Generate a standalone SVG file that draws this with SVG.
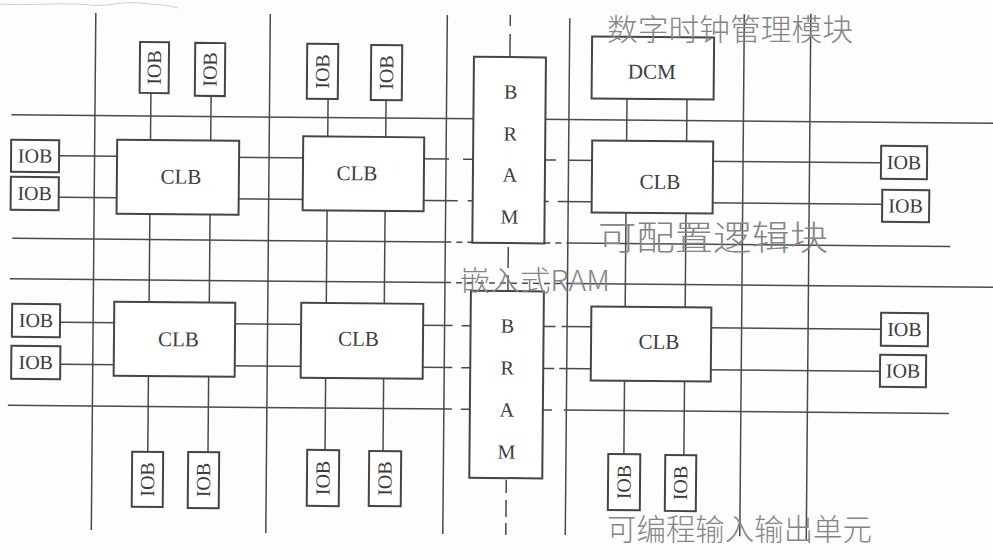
<svg xmlns="http://www.w3.org/2000/svg" width="993" height="560" viewBox="0 0 993 560">
<style>
.ln{stroke:#4a4a4a;stroke-width:1.5;fill:none}
.dsh{stroke-dasharray:6 5}
.box{fill:#fff;stroke:#454545;stroke-width:2}
.t{font-family:"Liberation Serif","Times New Roman",serif;font-size:21px;fill:#3c3c3c;text-anchor:middle}
.s{font-size:20px}
.hw{font-family:"Noto Sans CJK SC","Noto Sans CJK TC",sans-serif;fill:#858585;font-weight:300}
</style>
<rect width="993" height="560" fill="#fdfdfd"/>
<path d="M0 4 C30 6 60 2 90 5 C110 7 120 1 140 3 C155 5 165 4 178 8" stroke="#d0d0d0" stroke-width="1" fill="none"/>
<g transform="rotate(0.5 496 280)">
<g id="connectors" class="ln">
<line x1="93.5" y1="16.5" x2="93.5" y2="533.5"/>
<line x1="268" y1="16" x2="268" y2="535"/>
<line x1="445" y1="15.5" x2="445" y2="534.5"/>
<line x1="567.5" y1="17.5" x2="567.5" y2="534.5"/>
<line x1="742" y1="12" x2="742" y2="534"/>
<line x1="808.5" y1="11" x2="808.5" y2="537"/>
<line x1="149.3" y1="70" x2="149.3" y2="482"/>
<line x1="209.5" y1="72" x2="209.5" y2="482"/>
<line x1="326.5" y1="73" x2="326.5" y2="479"/>
<line x1="384.5" y1="73" x2="384.5" y2="479"/>
<line x1="625.4" y1="66" x2="625.4" y2="481"/>
<line x1="685.4" y1="66" x2="685.4" y2="481"/>
<line x1="10" y1="119" x2="1000" y2="119"/>
<line x1="34" y1="159.5" x2="448" y2="159.5"/>
<line x1="462" y1="159.5" x2="472" y2="159.5"/>
<line x1="544" y1="159.5" x2="555" y2="159.5"/>
<line x1="568" y1="159.5" x2="903" y2="159.5"/>
<line x1="34" y1="201" x2="457" y2="201"/>
<line x1="467" y1="201" x2="472" y2="201"/>
<line x1="544" y1="201" x2="548" y2="201"/>
<line x1="557" y1="201" x2="905" y2="201"/>
<line x1="12" y1="242.5" x2="445" y2="242.5"/>
<line class="dsh" x1="445" y1="242.5" x2="567" y2="242.5"/>
<line x1="567" y1="242.5" x2="950" y2="242.5"/>
<line x1="10" y1="283" x2="445" y2="283"/>
<line class="dsh" x1="445" y1="283" x2="567" y2="283"/>
<line x1="567" y1="283" x2="1000" y2="283"/>
<line x1="36" y1="326" x2="453" y2="326"/>
<line x1="462" y1="326" x2="471" y2="326"/>
<line x1="544" y1="326" x2="556" y2="326"/>
<line x1="562" y1="326" x2="905" y2="326"/>
<line x1="36" y1="368" x2="453" y2="368"/>
<line x1="462" y1="368" x2="471" y2="368"/>
<line x1="544" y1="368" x2="555" y2="368"/>
<line x1="560" y1="368" x2="904" y2="368"/>
<line x1="9" y1="409.5" x2="453" y2="409.5"/>
<line x1="462" y1="409.5" x2="471" y2="409.5"/>
<line x1="544" y1="409.5" x2="553" y2="409.5"/>
<line x1="565" y1="409.5" x2="950" y2="409.5"/>
<line x1="508" y1="15" x2="508" y2="26"/>
<line x1="508" y1="34" x2="508" y2="57"/>
<line x1="508" y1="247" x2="508" y2="268"/>
<line x1="508" y1="275" x2="508" y2="291"/>
<line x1="508" y1="480" x2="508" y2="493"/>
<line x1="508" y1="500" x2="508" y2="517"/>
<line x1="508" y1="523" x2="508" y2="535"/>
</g>
<g id="bram-top"><rect class="box" x="472" y="57" width="72" height="186"/>
<text class="t s" x="509" y="98.5">B</text><text class="t s" x="509" y="140.5">R</text><text class="t s" x="509" y="181.5">A</text><text class="t s" x="509" y="223.5">M</text></g>
<g id="bram-bottom"><rect class="box" x="471" y="291" width="73" height="187"/>
<text class="t s" x="508" y="332.5">B</text><text class="t s" x="508" y="374.5">R</text><text class="t s" x="508" y="416.5">A</text><text class="t s" x="508" y="458.5">M</text></g>
<g id="dcm"><rect class="box" x="590" y="35.6" width="122" height="62"/><text class="t" x="650" y="77.3">DCM</text></g>
<g id="clb-1"><rect class="box" x="116" y="143" width="122" height="74"/><text class="t" x="180" y="186.4">CLB</text></g>
<g id="clb-2"><rect class="box" x="302" y="138" width="121" height="74"/><text class="t" x="356" y="181.5">CLB</text></g>
<g id="clb-3"><rect class="box" x="591" y="139.6" width="121" height="72"/><text class="t" x="659" y="187.3">CLB</text></g>
<g id="clb-4"><rect class="box" x="114.5" y="305" width="121" height="74"/><text class="t" x="179" y="349">CLB</text></g>
<g id="clb-5"><rect class="box" x="301.5" y="304.5" width="122" height="75"/><text class="t" x="359" y="347">CLB</text></g>
<g id="clb-6"><rect class="box" x="591.6" y="305.6" width="120" height="74"/><text class="t" x="659.5" y="347.3">CLB</text></g>
<g id="iob-l1"><rect class="box" x="10" y="144" width="48" height="32"/><text class="t s" x="34" y="166.6">IOB</text></g>
<g id="iob-l2"><rect class="box" x="10" y="181" width="48" height="33"/><text class="t s" x="34" y="204.1">IOB</text></g>
<g id="iob-l3"><rect class="box" x="12.4" y="308" width="48" height="33"/><text class="t s" x="36.4" y="331.1">IOB</text></g>
<g id="iob-l4"><rect class="box" x="12" y="350" width="49" height="33"/><text class="t s" x="36.5" y="373.1">IOB</text></g>
<g id="iob-r1"><rect class="box" x="880" y="142.5" width="46" height="33"/><text class="t s" x="903" y="165.6">IOB</text></g>
<g id="iob-r2"><rect class="box" x="881.5" y="186.4" width="47" height="32"/><text class="t s" x="905" y="209">IOB</text></g>
<g id="iob-r3"><rect class="box" x="881.4" y="309.4" width="47" height="33"/><text class="t s" x="904.9" y="332.5">IOB</text></g>
<g id="iob-r4"><rect class="box" x="880.8" y="351.4" width="46" height="32"/><text class="t s" x="903.8" y="374">IOB</text></g>
<g id="iob-t1"><rect class="box" x="138" y="45" width="29" height="51"/><text class="t s" transform="translate(152.5 70.5) rotate(-90)" y="6.6">IOB</text></g>
<g id="iob-t2"><rect class="box" x="193.2" y="45.5" width="30" height="53"/><text class="t s" transform="translate(208.2 72) rotate(-90)" y="6.6">IOB</text></g>
<g id="iob-t3"><rect class="box" x="305.2" y="45.5" width="31" height="55"/><text class="t s" transform="translate(320.7 73) rotate(-90)" y="6.6">IOB</text></g>
<g id="iob-t4"><rect class="box" x="369.2" y="46" width="31" height="55"/><text class="t s" transform="translate(384.7 73.5) rotate(-90)" y="6.6">IOB</text></g>
<g id="iob-b1"><rect class="box" x="133.7" y="455" width="31" height="55"/><text class="t s" transform="translate(149.2 482.5) rotate(-90)" y="6.6">IOB</text></g>
<g id="iob-b2"><rect class="box" x="189.7" y="454.6" width="31" height="56"/><text class="t s" transform="translate(205.2 482.6) rotate(-90)" y="6.6">IOB</text></g>
<g id="iob-b3"><rect class="box" x="308.7" y="451.5" width="32" height="56"/><text class="t s" transform="translate(324.7 479.5) rotate(-90)" y="6.6">IOB</text></g>
<g id="iob-b4"><rect class="box" x="370.7" y="452" width="32" height="55"/><text class="t s" transform="translate(386.7 479.5) rotate(-90)" y="6.6">IOB</text></g>
<g id="iob-b5"><rect class="box" x="609.8" y="452.9" width="32" height="56"/><text class="t s" transform="translate(625.8 480.9) rotate(-90)" y="6.6">IOB</text></g>
<g id="iob-b6"><rect class="box" x="666.8" y="453.4" width="31" height="56"/><text class="t s" transform="translate(682.3 481.4) rotate(-90)" y="6.6">IOB</text></g>
</g>
<g id="annotations" class="hw">
<text x="607" y="40" font-size="30" textLength="246" lengthAdjust="spacingAndGlyphs">数字时钟管理模块</text>
<text x="598" y="250" font-size="34" textLength="230" lengthAdjust="spacingAndGlyphs">可配置逻辑块</text>
<text x="460" y="291" font-size="28" textLength="150" lengthAdjust="spacingAndGlyphs">嵌入式RAM</text>
<text x="607" y="540" font-size="30" textLength="265" lengthAdjust="spacingAndGlyphs">可编程输入输出单元</text>
</g>
</svg>
